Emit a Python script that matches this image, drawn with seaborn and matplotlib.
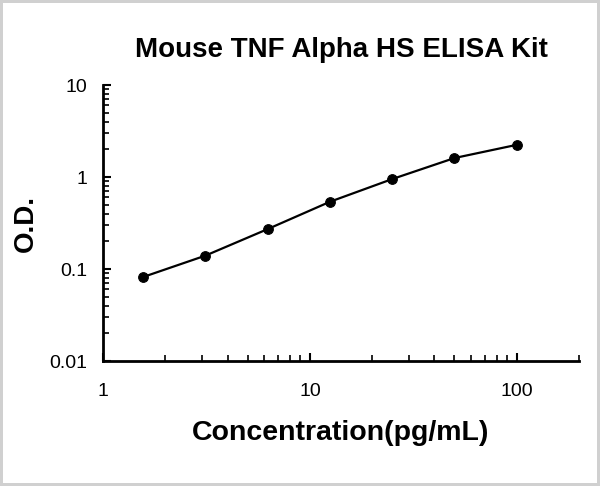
import matplotlib
matplotlib.use('Agg')
import matplotlib.pyplot as plt
import matplotlib.ticker as mticker
import seaborn as sns
import pandas as pd

# Standard curve values
concentration = [1.5625, 3.125, 6.25, 12.5, 25, 50, 100]
od = [0.082, 0.140, 0.272, 0.539, 0.951, 1.61, 2.24]
x_ticks = [1, 10, 100]
x_tick_labels = ['1', '10', '100']
y_ticks = [0.01, 0.1, 1, 10]
y_tick_labels = ['0.01', '0.1', '1', '10']

df = pd.DataFrame({'conc': concentration, 'od': od})

sns.set_style('ticks')
plt.rcParams['font.family'] = ['Liberation Sans', 'DejaVu Sans']
plt.rcParams['text.color'] = 'black'
plt.rcParams['axes.labelcolor'] = 'black'

fig = plt.figure(figsize=(6, 4.86), dpi=100)
ax = fig.add_axes([0.1717, 0.257, 0.7933, 0.568])

sns.lineplot(x='conc', y='od', data=df, ax=ax, color='black', linewidth=1.6,
             marker='o', markersize=7, markeredgecolor='black')

ax.set_xscale('log')
ax.set_yscale('log')
ax.set_xlim(1, 200)
ax.set_ylim(0.01, 10)

ax.xaxis.set_major_locator(mticker.FixedLocator(x_ticks))
ax.xaxis.set_major_formatter(mticker.FixedFormatter(x_tick_labels))
ax.yaxis.set_major_locator(mticker.FixedLocator(y_ticks))
ax.yaxis.set_major_formatter(mticker.FixedFormatter(y_tick_labels))
ax.xaxis.set_minor_locator(mticker.LogLocator(base=10, subs=range(2, 10)))
ax.yaxis.set_minor_locator(mticker.LogLocator(base=10, subs=range(2, 10)))
ax.xaxis.set_minor_formatter(mticker.NullFormatter())
ax.yaxis.set_minor_formatter(mticker.NullFormatter())

ax.tick_params(which='major', direction='in', length=6, width=1.5,
               labelsize=14, colors='black', labelcolor='black')
ax.tick_params(axis='x', which='major', pad=16)
ax.tick_params(axis='y', which='major', pad=11)
ax.tick_params(which='minor', direction='in', length=4, width=1.2, colors='black')

for side in ['top', 'right']:
    ax.spines[side].set_visible(False)
for side in ['left', 'bottom']:
    ax.spines[side].set_linewidth(2)
    ax.spines[side].set_color('black')

ax.set_title('Mouse TNF Alpha HS ELISA Kit', fontsize=20, fontweight='bold',
             pad=20, color='black')
ax.set_xlabel('Concentration(pg/mL)', fontsize=20.5, fontweight='bold', labelpad=14)
ax.set_ylabel('O.D.', fontsize=20, fontweight='bold', labelpad=8)

fig.patch.set_edgecolor('#d0d0d0')
fig.patch.set_linewidth(4)

fig.savefig('out.png', dpi=100, edgecolor=fig.get_edgecolor())
